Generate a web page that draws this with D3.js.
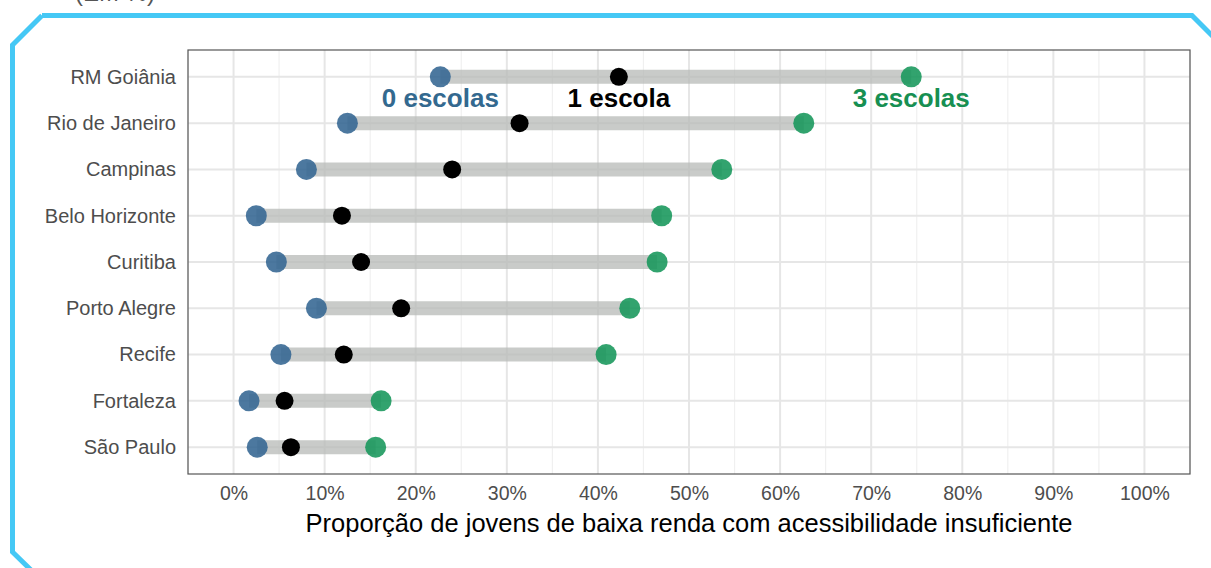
<!DOCTYPE html>
<html><head><meta charset="utf-8">
<script src="https://cdn.jsdelivr.net/npm/d3@7"></script>
<style>body{margin:0;background:#fff;}svg{display:block;font-family:"Liberation Sans",Arial,Helvetica,sans-serif;}</style>
</head><body>
<svg id="chart" width="1211" height="568"></svg>
<script>
const cities = ["RM Goiânia","Rio de Janeiro","Campinas","Belo Horizonte","Curitiba","Porto Alegre","Recife","Fortaleza","São Paulo"];
const zeroSchools = [22.7, 12.5, 8.0, 2.5, 4.7, 9.1, 5.2, 1.7, 2.6];
const oneSchool   = [42.3, 31.4, 24.0, 11.9, 14.0, 18.4, 12.1, 5.6, 6.3];
const threeSchools= [74.4, 62.6, 53.6, 47.0, 46.5, 43.5, 40.9, 16.2, 15.6];
const xTicks = [0,10,20,30,40,50,60,70,80,90,100];
const seriesLabels = ["0 escolas","1 escola","3 escolas"];
const xTitle = "Proporção de jovens de baixa renda com acessibilidade insuficiente";
const topNote = "(EM %)";

const svg = d3.select("#chart");
const panel = {l:188, r:1190, t:50, b:474};

// decorative frame
const frame = [[42,15.5],[1192,15.5],[1230,53.5]];
svg.append("path").attr("d", d3.line()(frame)).attr("fill","none").attr("stroke","#45c8f5").attr("stroke-width",5);
const frameL = [[42,15.5],[12.5,45],[12.5,552],[32,571]];
svg.append("path").attr("d", d3.line()(frameL)).attr("fill","none").attr("stroke","#45c8f5").attr("stroke-width",5);
svg.append("text").attr("x",75).attr("y",1).attr("font-size",24).attr("fill","#555").text(topNote);

const x = d3.scaleLinear().domain([-5,105]).range([panel.l, panel.r]);
const y = d3.scalePoint().domain(cities).range([panel.t, panel.b]).padding(0.58);

// grid
const g = svg.append("g");
const minor = d3.range(-5,106,10);
g.selectAll(".minor").data(minor).join("line")
  .attr("x1",d=>x(d)).attr("x2",d=>x(d)).attr("y1",panel.t).attr("y2",panel.b)
  .attr("stroke","#f0f0f0").attr("stroke-width",1.2);
g.selectAll(".major").data(xTicks).join("line")
  .attr("x1",d=>x(d)).attr("x2",d=>x(d)).attr("y1",panel.t).attr("y2",panel.b)
  .attr("stroke","#e6e6e6").attr("stroke-width",2);
g.selectAll(".hg").data(cities).join("line")
  .attr("x1",panel.l).attr("x2",panel.r).attr("y1",d=>y(d)).attr("y2",d=>y(d))
  .attr("stroke","#e6e6e6").attr("stroke-width",2);

// segments
g.selectAll(".seg").data(cities).join("line")
  .attr("x1",(d,i)=>x(zeroSchools[i])).attr("x2",(d,i)=>x(threeSchools[i]))
  .attr("y1",d=>y(d)).attr("y2",d=>y(d))
  .attr("stroke","#b7b9b7").attr("stroke-opacity",0.75).attr("stroke-width",14);

// points
g.selectAll(".p0").data(cities).join("circle")
  .attr("cx",(d,i)=>x(zeroSchools[i])).attr("cy",d=>y(d)).attr("r",10.5)
  .attr("fill","#336592").attr("fill-opacity",0.88);
g.selectAll(".p3").data(cities).join("circle")
  .attr("cx",(d,i)=>x(threeSchools[i])).attr("cy",d=>y(d)).attr("r",10.5)
  .attr("fill","#16965a").attr("fill-opacity",0.88);
g.selectAll(".p1").data(cities).join("circle")
  .attr("cx",(d,i)=>x(oneSchool[i])).attr("cy",d=>y(d)).attr("r",9)
  .attr("fill","#000");

// series labels under first row
const labColors = ["#33698f","#000000","#178f52"];
const labX = [zeroSchools[0], oneSchool[0], threeSchools[0]];
svg.selectAll(".lab").data(seriesLabels).join("text")
  .attr("x",(d,i)=>x(labX[i])).attr("y",y(cities[0])+30)
  .attr("text-anchor","middle").attr("font-size",26).attr("font-weight","bold")
  .attr("fill",(d,i)=>labColors[i]).text(d=>d);

// panel border
svg.append("rect").attr("x",panel.l).attr("y",panel.t).attr("width",panel.r-panel.l).attr("height",panel.b-panel.t)
  .attr("fill","none").attr("stroke","#555").attr("stroke-width",1.2);

// axes
const xAxis = d3.axisBottom(x).tickValues(xTicks).tickFormat(d=>d+"%").tickSize(0).tickPadding(12);
const xa = svg.append("g").attr("transform",`translate(0,${panel.b})`).call(xAxis);
xa.select(".domain").remove();
xa.selectAll("text").attr("font-size",19.5).attr("fill","#4d4d4d").attr("font-family","Liberation Sans, Arial, sans-serif");

const yAxis = d3.axisLeft(y).tickSize(0).tickPadding(12);
const ya = svg.append("g").attr("transform",`translate(${panel.l},0)`).call(yAxis);
ya.select(".domain").remove();
ya.selectAll("text").attr("font-size",20).attr("fill","#4d4d4d").attr("font-family","Liberation Sans, Arial, sans-serif");

svg.append("text").attr("x",(panel.l+panel.r)/2).attr("y",532).attr("text-anchor","middle")
  .attr("font-size",25.5).attr("fill","#000").text(xTitle);
</script>
</body></html>
